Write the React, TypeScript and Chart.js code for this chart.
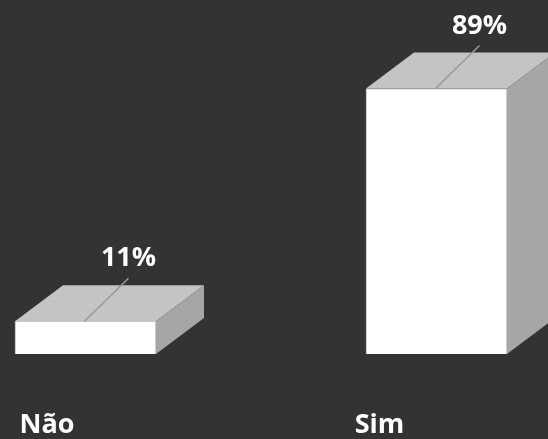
import React, { useEffect, useRef } from "react";
import { Chart, registerables } from "chart.js";

Chart.register(...registerables);

const categories = ["Não", "Sim"];
const values = [11, 89];
const yMax = 100;

const FONT = "bold 27px 'Open Sans', 'Noto Sans', sans-serif";
const labelNudge = [-38.5, -57];

const depthPlugin = {
  id: "depth3d",
  afterDatasetsDraw(chart: any) {
    const ctx = chart.ctx;
    const meta = chart.getDatasetMeta(0);
    const dx = 48;
    const dy = -36;
    ctx.save();
    meta.data.forEach((bar: any, i: number) => {
      const p = bar.getProps(["x", "y", "base", "width"], true);
      const left = p.x - p.width / 2;
      const right = p.x + p.width / 2;
      const top = p.y;
      const bottom = p.base;
      // top face
      ctx.fillStyle = "#c4c4c4";
      ctx.beginPath();
      ctx.moveTo(left, top);
      ctx.lineTo(right, top);
      ctx.lineTo(right + dx, top + dy);
      ctx.lineTo(left + dx, top + dy);
      ctx.closePath();
      ctx.fill();
      // side face
      ctx.fillStyle = "#a6a6a6";
      ctx.beginPath();
      ctx.moveTo(right, top);
      ctx.lineTo(right + dx, top + dy);
      ctx.lineTo(right + dx, bottom + dy);
      ctx.lineTo(right, bottom);
      ctx.closePath();
      ctx.fill();
      // leader line
      ctx.strokeStyle = "#999999";
      ctx.lineWidth = 1.5;
      ctx.beginPath();
      ctx.moveTo(p.x - 1, top);
      ctx.lineTo(p.x + 43, top - 43);
      ctx.stroke();
      // value label
      ctx.fillStyle = "#ffffff";
      ctx.font = FONT;
      ctx.textAlign = "center";
      ctx.textBaseline = "alphabetic";
      ctx.fillText(values[i] + "%", p.x + 43, top - 55);
      // category label
      ctx.fillText(categories[i], p.x + labelNudge[i], 433);
    });
    ctx.restore();
  },
};

export default function App() {
  const ref = useRef<HTMLCanvasElement>(null);
  useEffect(() => {
    if (!ref.current) return;
    const chart = new Chart(ref.current, {
      type: "bar",
      data: {
        labels: categories,
        datasets: [
          {
            data: values,
            backgroundColor: "#ffffff",
            borderColor: "#b5b5b5",
            borderWidth: 1,
            barThickness: 141,
          },
        ],
      },
      options: {
        responsive: false,
        animation: false,
        layout: { padding: { top: 55.7, bottom: 85, left: 10, right: 10 } },
        scales: {
          x: { display: false },
          y: { display: false, min: 0, max: yMax },
        },
        plugins: { legend: { display: false }, tooltip: { enabled: false } },
      },
      plugins: [depthPlugin],
    } as any);
    return () => chart.destroy();
  }, []);
  return (
    <div
      style={{
        position: "fixed",
        left: 0,
        top: 0,
        width: 548,
        height: 439,
        overflow: "hidden",
        background: "#333333",
      }}
    >
      <canvas
        ref={ref}
        width={722}
        height={439}
        style={{ position: "absolute", left: -100, top: 0, width: 722, height: 439 }}
      />
    </div>
  );
}
